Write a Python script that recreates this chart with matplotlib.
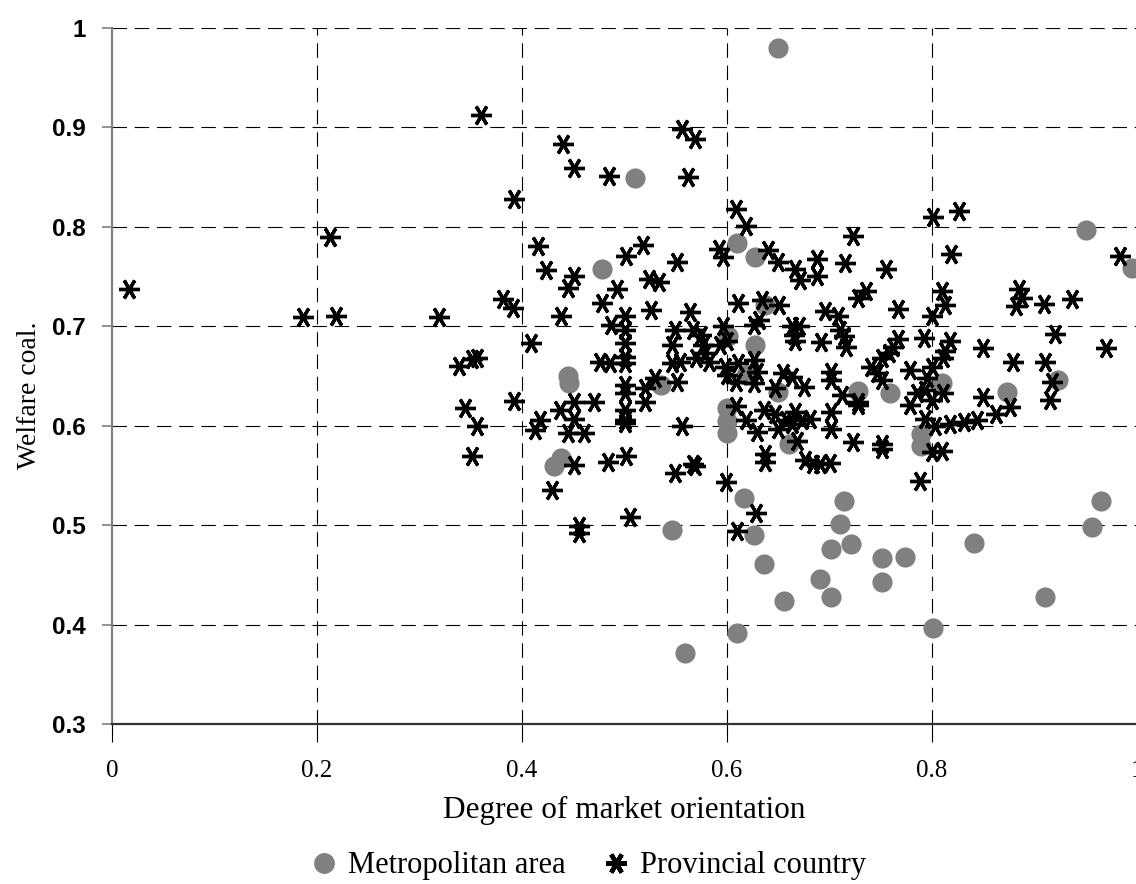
import matplotlib
matplotlib.use("Agg")
import matplotlib.pyplot as plt
from matplotlib.lines import Line2D

# Metropolitan area (grey dots)
metro_x = [0.650, 0.510, 0.950, 0.995, 0.478, 0.610, 0.627, 0.637, 0.601, 0.627,
           0.619, 0.445, 0.446, 0.536, 0.600, 0.600, 0.600, 0.438, 0.431, 0.650,
           0.728, 0.759, 0.660, 0.789, 0.789, 0.810, 0.873, 0.923, 0.617, 0.546,
           0.626, 0.636, 0.610, 0.559, 0.714, 0.710, 0.721, 0.701, 0.691, 0.701,
           0.656, 0.751, 0.774, 0.751, 0.801, 0.965, 0.956, 0.841, 0.910]
metro_y = [0.980, 0.849, 0.797, 0.759, 0.758, 0.784, 0.770, 0.721, 0.690, 0.681,
           0.651, 0.650, 0.643, 0.641, 0.618, 0.605, 0.593, 0.568, 0.559, 0.634,
           0.635, 0.633, 0.582, 0.592, 0.580, 0.643, 0.634, 0.646, 0.527, 0.495,
           0.490, 0.461, 0.392, 0.371, 0.524, 0.501, 0.481, 0.476, 0.446, 0.428,
           0.424, 0.467, 0.468, 0.443, 0.397, 0.524, 0.498, 0.482, 0.428]

# Provincial country (black asterisks)
prov_x = [0.017, 0.186, 0.213, 0.219, 0.319,
          0.360, 0.440, 0.451, 0.485, 0.556, 0.569, 0.562, 0.392,
          0.416, 0.423, 0.451, 0.445, 0.381, 0.391, 0.438, 0.409, 0.339, 0.351,
          0.356, 0.392, 0.344, 0.356, 0.418, 0.413, 0.437, 0.451, 0.451, 0.470,
          0.445, 0.460,
          0.351, 0.451, 0.429, 0.456, 0.456,
          0.609, 0.619, 0.640, 0.501, 0.518, 0.551, 0.592, 0.596, 0.524, 0.534,
          0.493, 0.478, 0.526, 0.564, 0.611, 0.634, 0.487,
          0.500, 0.500, 0.500, 0.500, 0.500,
          0.476, 0.486, 0.549, 0.567, 0.575, 0.596, 0.600, 0.626, 0.631, 0.546,
          0.577, 0.579, 0.570, 0.582, 0.593, 0.546, 0.554, 0.598, 0.600, 0.611,
          0.626, 0.629, 0.609, 0.626, 0.530, 0.520, 0.551,
          0.500, 0.500, 0.500, 0.500, 0.500,
          0.520, 0.609, 0.636, 0.619, 0.629, 0.556,
          0.637, 0.637, 0.484, 0.501, 0.549, 0.567, 0.569, 0.599, 0.628, 0.505,
          0.610,
          0.801, 0.723, 0.650, 0.666, 0.671, 0.688, 0.688, 0.715, 0.755, 0.736,
          0.728, 0.651, 0.696, 0.708, 0.767, 0.800, 0.663, 0.670, 0.665, 0.666,
          0.692, 0.710, 0.714, 0.716, 0.767, 0.762, 0.792, 0.758, 0.751, 0.740,
          0.746, 0.751, 0.779, 0.800, 0.795, 0.655, 0.663, 0.647, 0.675, 0.701,
          0.701, 0.712, 0.728, 0.728, 0.779, 0.785, 0.793, 0.800, 0.793, 0.803,
          0.647, 0.658, 0.666, 0.673, 0.681, 0.663, 0.701, 0.701, 0.650,
          0.668, 0.676, 0.684, 0.691, 0.700, 0.723, 0.751, 0.751, 0.800, 0.788,
          0.826, 0.819, 0.983, 0.810, 0.813, 0.885, 0.888, 0.882, 0.909, 0.937,
          0.920, 0.970, 0.818, 0.813, 0.811, 0.850, 0.879, 0.910, 0.811, 0.917,
          0.915, 0.850, 0.876, 0.862, 0.844, 0.831, 0.818,
          0.810]
prov_y = [0.738, 0.709, 0.790, 0.710, 0.709,
          0.913, 0.883, 0.859, 0.851, 0.898, 0.888, 0.850, 0.828,
          0.781, 0.757, 0.751, 0.739, 0.727, 0.718, 0.710, 0.683, 0.660, 0.667,
          0.668, 0.625, 0.618, 0.600, 0.606, 0.596, 0.616, 0.624, 0.607, 0.624,
          0.593, 0.593,
          0.570, 0.560, 0.535, 0.499, 0.492,
          0.818, 0.801, 0.777, 0.771, 0.782, 0.765, 0.778, 0.770, 0.748, 0.745,
          0.737, 0.723, 0.716, 0.714, 0.723, 0.726, 0.701,
          0.710, 0.696, 0.683, 0.669, 0.663,
          0.664, 0.663, 0.696, 0.696, 0.691, 0.700, 0.685, 0.701, 0.706, 0.681,
          0.681, 0.673, 0.668, 0.664, 0.681, 0.663, 0.664, 0.659, 0.651, 0.663,
          0.666, 0.654, 0.644, 0.643, 0.648, 0.638, 0.644,
          0.641, 0.633, 0.616, 0.606, 0.603,
          0.624, 0.620, 0.616, 0.606, 0.594, 0.600,
          0.572, 0.564, 0.564, 0.570, 0.552, 0.561, 0.559, 0.543, 0.512, 0.508,
          0.494,
          0.810, 0.791, 0.765, 0.758, 0.747, 0.768, 0.751, 0.764, 0.758, 0.735,
          0.728, 0.721, 0.715, 0.710, 0.717, 0.710, 0.700, 0.700, 0.691, 0.685,
          0.684, 0.696, 0.690, 0.679, 0.687, 0.679, 0.688, 0.673, 0.668, 0.659,
          0.653, 0.646, 0.656, 0.659, 0.648, 0.653, 0.649, 0.638, 0.639, 0.654,
          0.646, 0.631, 0.624, 0.621, 0.621, 0.633, 0.636, 0.626, 0.607, 0.600,
          0.612, 0.606, 0.614, 0.606, 0.607, 0.602, 0.614, 0.597, 0.597,
          0.585, 0.566, 0.561, 0.561, 0.562, 0.584, 0.582, 0.577, 0.574, 0.544,
          0.816, 0.773, 0.771, 0.735, 0.721, 0.737, 0.728, 0.720, 0.722, 0.727,
          0.692, 0.678, 0.685, 0.675, 0.668, 0.678, 0.664, 0.664, 0.633, 0.644,
          0.626, 0.629, 0.619, 0.612, 0.606, 0.604, 0.602,
          0.575]

x_ticks = [0, 0.2, 0.4, 0.6, 0.8, 1]
x_labels = ["0", "0.2", "0.4", "0.6", "0.8", "1"]
y_ticks = [0.3, 0.4, 0.5, 0.6, 0.7, 0.8, 0.9, 1.0]
y_labels = ["0.3", "0.4", "0.5", "0.6", "0.7", "0.8", "0.9", "1"]

SERIF = "Liberation Serif"
SANS = "Liberation Sans"
GREY = "#808080"
STAR = (6, 2, 90)   # six-armed asterisk with a horizontal bar

fig = plt.figure(figsize=(11.36, 8.84), dpi=100)
ax = fig.add_axes([112 / 1136, 160 / 884, 1025 / 1136, 696 / 884])

ax.plot(metro_x, metro_y, ls="none", marker="o", ms=14.5, mfc=GREY, mec="none",
        zorder=3, clip_on=False)
ax.plot(prov_x, prov_y, ls="none", marker=STAR, ms=15, mew=2.4, color="black",
        zorder=4, clip_on=False)

ax.set_xlim(0, 1)
ax.set_ylim(0.3, 1.0)

# dashed grid; the top line at y = 1 is part of the grid, not a frame
for xv in x_ticks[1:-1]:
    ax.axvline(xv, color="black", lw=0.8, ls=(0, (13, 7)), zorder=1)
for yv in y_ticks[1:]:
    ax.axhline(yv, color="black", lw=0.8, ls=(0, (13, 7)), zorder=1)

for side in ("top", "right"):
    ax.spines[side].set_visible(False)
ax.spines["left"].set_color(GREY)
ax.spines["left"].set_linewidth(1.6)
ax.spines["bottom"].set_color("#333333")
ax.spines["bottom"].set_linewidth(1.6)

ax.set_xticks(x_ticks)
ax.set_xticklabels(x_labels, fontfamily=SERIF, fontsize=18)
ax.set_yticks(y_ticks)
ax.set_yticklabels(y_labels, fontfamily=SANS, fontsize=17.5, fontweight="bold")
ax.tick_params(axis="x", direction="out", length=13, width=0.8, color="black", pad=13)
ax.tick_params(axis="y", direction="out", length=7, width=1.2, color=GREY, pad=12)

ax.set_xlabel("Degree of market orientation", fontfamily=SERIF, fontsize=22.5, labelpad=10)
ax.set_ylabel("Welfare coal.", fontfamily=SERIF, fontsize=20)
ax.yaxis.set_label_coords(-0.068, 0.473)

handles = [
    Line2D([], [], ls="none", marker="o", ms=15, mfc=GREY, mec="none"),
    Line2D([], [], ls="none", marker=STAR, ms=15, mew=3.2, color="black"),
]
fig.legend(handles, ["Metropolitan area", "Provincial country"], loc="center",
           bbox_to_anchor=(0.517, 1 - 866 / 884), ncol=2, frameon=False,
           prop={"family": SERIF, "size": 22}, handletextpad=0.28,
           columnspacing=1.17, handlelength=1.0)

fig.savefig("out.png", dpi=100)
